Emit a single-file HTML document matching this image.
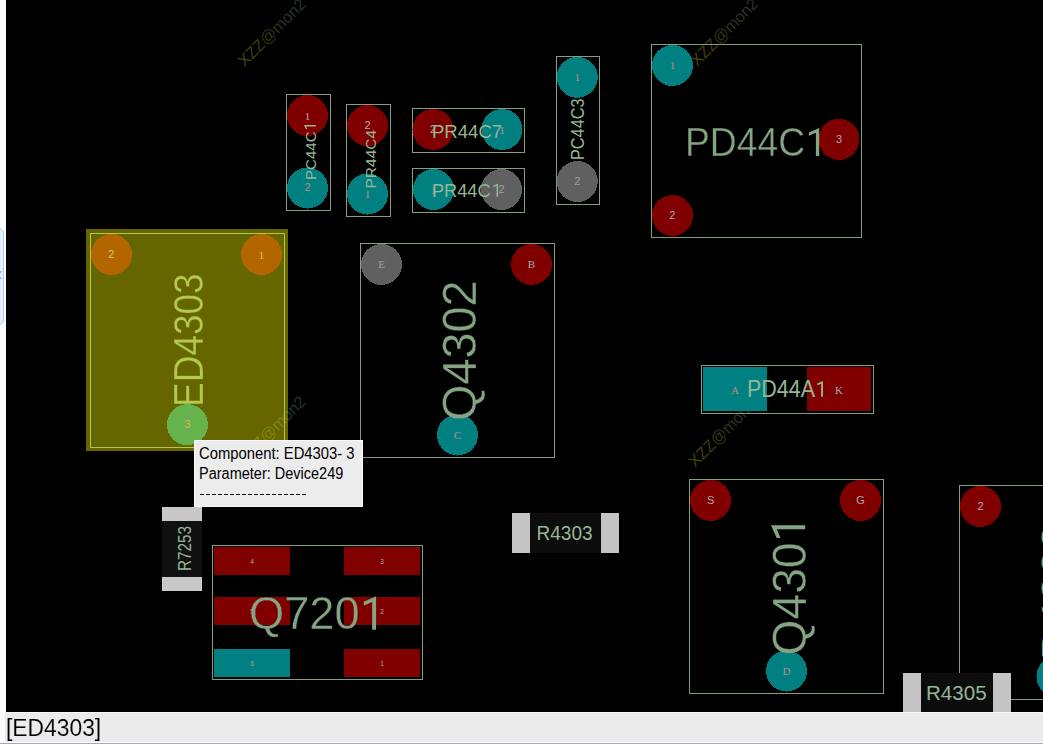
<!DOCTYPE html>
<html><head><meta charset="utf-8"><style>
html,body{margin:0;padding:0;}
body{width:1043px;height:744px;overflow:hidden;position:relative;background:#fcfefc;}
#tab{position:absolute;left:-6px;top:228px;width:10px;height:97px;background:#e4eefc;border:1px solid #a8ccf4;border-radius:6px;box-sizing:border-box;}
svg{position:absolute;left:0;top:0;}
</style></head><body>
<div id="tab"></div><div style="position:absolute;left:-2px;top:272px;width:5px;height:5px;border-left:1.5px solid #6aa0e0;border-bottom:1.5px solid #6aa0e0;transform:rotate(45deg);"></div>
<svg width="1043" height="744" viewBox="0 0 1043 744">
<defs><linearGradient id="wm" x1="0" y1="0" x2="1" y2="0"><stop offset="0" stop-color="#4a4400"/><stop offset="0.5" stop-color="#333318"/><stop offset="1" stop-color="#1c3434"/></linearGradient>
<clipPath id="cvc"><rect x="6" y="0" width="1037" height="712"/></clipPath></defs>
<g clip-path="url(#cvc)">
<rect x="6" y="0" width="1037" height="712" fill="#000"/>
<text transform="translate(244.5,67.5) rotate(-45)" font-family='"Liberation Sans", sans-serif' font-size="16.3" fill="url(#wm)">XZZ@mon2</text>
<text transform="translate(697,67) rotate(-45)" font-family='"Liberation Sans", sans-serif' font-size="16.3" fill="url(#wm)">XZZ@mon2</text>
<text transform="translate(244.5,465) rotate(-45)" font-family='"Liberation Sans", sans-serif' font-size="16.3" fill="url(#wm)">XZZ@mon2</text>
<text transform="translate(695,468) rotate(-45)" font-family='"Liberation Sans", sans-serif' font-size="16.3" fill="url(#wm)">XZZ@mon2</text>
<rect x="286.5" y="94.5" width="44" height="116" fill="none" stroke="#80a080" stroke-width="1"/>
<circle cx="307.5" cy="115.5" r="20.5" fill="#800000" shape-rendering="crispEdges"/>
<text x="307.5" y="119.5" font-family='"Liberation Serif", serif' font-size="11" fill="#a8acb4" text-anchor="middle">1</text>
<circle cx="307.5" cy="188" r="20.5" fill="#008080" shape-rendering="crispEdges"/>
<text x="307.5" y="191.2" font-family='"Liberation Sans", sans-serif' font-size="11" fill="#c08888" text-anchor="middle">2</text>
<text transform="translate(316.30,180.00) rotate(-90)" font-family='"Liberation Sans", sans-serif' font-size="15.41" fill="#96b696" textLength="48.58" lengthAdjust="spacingAndGlyphs">PC44C</text>
<path d="M315.90,125.00 L304.02,125.00 L306.00,129.37 L307.32,129.37 L306.08,126.40 L315.90,126.40 Z" fill="#96b696"/>
<rect x="346.5" y="104.5" width="44" height="112" fill="none" stroke="#80a080" stroke-width="1"/>
<circle cx="367.5" cy="125.5" r="20.5" fill="#800000" shape-rendering="crispEdges"/>
<text x="367.5" y="128.7" font-family='"Liberation Sans", sans-serif' font-size="11" fill="#a8acb4" text-anchor="middle">2</text>
<circle cx="367.5" cy="194" r="20.5" fill="#008080" shape-rendering="crispEdges"/>
<text x="367.5" y="198" font-family='"Liberation Serif", serif' font-size="11" fill="#c08888" text-anchor="middle">1</text>
<text transform="translate(376.30,188.50) rotate(-90)" font-family='"Liberation Sans", sans-serif' font-size="15.41" fill="#96b696" textLength="58.54" lengthAdjust="spacingAndGlyphs">PR44C4</text>
<rect x="412.5" y="108.5" width="112" height="44" fill="none" stroke="#80a080" stroke-width="1"/>
<circle cx="433" cy="129.5" r="20.5" fill="#800000" shape-rendering="crispEdges"/>
<text x="433" y="132.7" font-family='"Liberation Sans", sans-serif' font-size="11" fill="#a8acb4" text-anchor="middle">2</text>
<circle cx="502" cy="129.5" r="20.5" fill="#008080" shape-rendering="crispEdges"/>
<text x="502" y="133.5" font-family='"Liberation Serif", serif' font-size="11" fill="#c08888" text-anchor="middle">1</text>
<text x="432.00" y="137.50" font-family='"Liberation Sans", sans-serif' font-size="18.91" fill="#96b696" textLength="70.10" lengthAdjust="spacingAndGlyphs">PR44C7</text>
<rect x="412.5" y="168.5" width="112" height="44" fill="none" stroke="#80a080" stroke-width="1"/>
<circle cx="433.4" cy="189.5" r="20.5" fill="#008080" shape-rendering="crispEdges"/>
<text x="433.4" y="193.5" font-family='"Liberation Serif", serif' font-size="11" fill="#c08888" text-anchor="middle">1</text>
<circle cx="501.5" cy="189.5" r="20.5" fill="#606060" shape-rendering="crispEdges"/>
<text x="501.5" y="192.7" font-family='"Liberation Sans", sans-serif' font-size="11" fill="#a0a0a0" text-anchor="middle">2</text>
<text x="432.00" y="196.50" font-family='"Liberation Sans", sans-serif' font-size="18.87" fill="#96b696" textLength="58.60" lengthAdjust="spacingAndGlyphs">PR44C</text>
<path d="M498.10,196.70 L498.10,183.52 L493.25,185.72 L493.25,187.18 L496.54,185.81 L496.54,196.70 Z" fill="#96b696"/>
<rect x="556.5" y="56.5" width="43" height="148" fill="none" stroke="#80a080" stroke-width="1"/>
<circle cx="577.3" cy="77.3" r="20.5" fill="#008080" shape-rendering="crispEdges"/>
<text x="577.3" y="81.3" font-family='"Liberation Serif", serif' font-size="11" fill="#c08888" text-anchor="middle">1</text>
<circle cx="577.3" cy="181.5" r="20.5" fill="#606060" shape-rendering="crispEdges"/>
<text x="577.3" y="184.7" font-family='"Liberation Sans", sans-serif' font-size="11" fill="#a0a0a0" text-anchor="middle">2</text>
<text transform="translate(583.60,160.00) rotate(-90)" font-family='"Liberation Sans", sans-serif' font-size="18.87" fill="#96b696" textLength="61.55" lengthAdjust="spacingAndGlyphs">PC44C3</text>
<rect x="651.5" y="44.5" width="210" height="193" fill="none" stroke="#80a080" stroke-width="1"/>
<circle cx="672.5" cy="65.4" r="20.5" fill="#008080" shape-rendering="crispEdges"/>
<text x="672.5" y="69.4" font-family='"Liberation Serif", serif' font-size="11" fill="#c08888" text-anchor="middle">1</text>
<circle cx="839" cy="139.4" r="20.5" fill="#800000" shape-rendering="crispEdges"/>
<text x="839" y="142.6" font-family='"Liberation Sans", sans-serif' font-size="11" fill="#a8acb4" text-anchor="middle">3</text>
<circle cx="672.4" cy="215.5" r="20.5" fill="#800000" shape-rendering="crispEdges"/>
<text x="672.4" y="218.7" font-family='"Liberation Sans", sans-serif' font-size="11" fill="#a8acb4" text-anchor="middle">2</text>
<mask id="tm1" maskUnits="userSpaceOnUse" x="0" y="0" width="1043" height="744"><rect x="0" y="0" width="1043" height="744" fill="#000"/><text x="685.00" y="156.00" font-family='"Liberation Sans", sans-serif' font-size="39.84" fill="#fff" stroke="#000" stroke-width="0.4" textLength="120.19" lengthAdjust="spacingAndGlyphs">PD44C</text></mask>
<rect x="6" y="0" width="1037" height="712" fill="#84a484" mask="url(#tm1)"/>
<path d="M819.20,156.00 L819.20,127.92 L808.87,132.60 L808.87,135.72 L815.88,132.80 L815.88,156.00 Z" fill="#84a484"/>
<rect x="360.5" y="243.5" width="194" height="214" fill="none" stroke="#80a080" stroke-width="1"/>
<circle cx="381.5" cy="264.4" r="20.5" fill="#606060" shape-rendering="crispEdges"/>
<text x="381.5" y="268.4" font-family='"Liberation Serif", serif' font-size="11" fill="#a0a0a0" text-anchor="middle">E</text>
<circle cx="531.5" cy="264.4" r="20.5" fill="#800000" shape-rendering="crispEdges"/>
<text x="531.5" y="268.4" font-family='"Liberation Serif", serif' font-size="11" fill="#a8acb4" text-anchor="middle">B</text>
<circle cx="457.5" cy="435" r="20.5" fill="#008080" shape-rendering="crispEdges"/>
<text x="457.5" y="439" font-family='"Liberation Serif", serif' font-size="11" fill="#c08888" text-anchor="middle">C</text>
<mask id="tm2" maskUnits="userSpaceOnUse" x="0" y="0" width="1043" height="744"><rect x="0" y="0" width="1043" height="744" fill="#000"/><text transform="translate(476.40,421.00) rotate(-90)" font-family='"Liberation Sans", sans-serif' font-size="48.04" fill="#fff" stroke="#000" stroke-width="0.4" textLength="140.68" lengthAdjust="spacingAndGlyphs">Q4302</text></mask>
<rect x="6" y="0" width="1037" height="712" fill="#84a484" mask="url(#tm2)"/>
<rect x="701.5" y="365.5" width="172" height="48" fill="none" stroke="#80a080" stroke-width="1"/>
<rect x="703" y="367" width="64" height="44" fill="#008080"/>
<text x="735.0" y="394.0" font-family='"Liberation Serif", serif' font-size="11" fill="#c08888" text-anchor="middle">A</text>
<rect x="807" y="367" width="64" height="44" fill="#800000"/>
<text x="839.0" y="394.0" font-family='"Liberation Serif", serif' font-size="11" fill="#a8acb4" text-anchor="middle">K</text>
<text x="747.00" y="397.00" font-family='"Liberation Sans", sans-serif' font-size="23.22" fill="#96b696" textLength="68.07" lengthAdjust="spacingAndGlyphs">PD44A</text>
<path d="M823.00,396.80 L823.00,380.96 L817.17,383.60 L817.17,385.36 L821.13,383.71 L821.13,396.80 Z" fill="#96b696"/>
<rect x="689.5" y="479.5" width="194" height="214" fill="none" stroke="#80a080" stroke-width="1"/>
<circle cx="710.6" cy="500.4" r="20.5" fill="#800000" shape-rendering="crispEdges"/>
<text x="710.6" y="503.59999999999997" font-family='"Liberation Sans", sans-serif' font-size="11" fill="#a8acb4" text-anchor="middle">S</text>
<circle cx="860.5" cy="500.4" r="20.5" fill="#800000" shape-rendering="crispEdges"/>
<text x="860.5" y="503.59999999999997" font-family='"Liberation Sans", sans-serif' font-size="11" fill="#a8acb4" text-anchor="middle">G</text>
<circle cx="786.5" cy="671" r="20.5" fill="#008080" shape-rendering="crispEdges"/>
<text x="786.5" y="675" font-family='"Liberation Serif", serif' font-size="11" fill="#c08888" text-anchor="middle">D</text>
<mask id="tm3" maskUnits="userSpaceOnUse" x="0" y="0" width="1043" height="744"><rect x="0" y="0" width="1043" height="744" fill="#000"/><text transform="translate(805.80,655.50) rotate(-90)" font-family='"Liberation Sans", sans-serif' font-size="47.21" fill="#fff" stroke="#000" stroke-width="0.4" textLength="113.09" lengthAdjust="spacingAndGlyphs">Q430</text></mask>
<rect x="6" y="0" width="1037" height="712" fill="#84a484" mask="url(#tm3)"/>
<path d="M805.20,525.30 L771.00,525.30 L776.70,537.89 L780.50,537.89 L776.94,529.34 L805.20,529.34 Z" fill="#84a484"/>
<rect x="959.5" y="485.5" width="241" height="214" fill="none" stroke="#80a080" stroke-width="1"/>
<circle cx="980.5" cy="506.4" r="20.5" fill="#800000" shape-rendering="crispEdges"/>
<text x="980.5" y="509.59999999999997" font-family='"Liberation Sans", sans-serif' font-size="11" fill="#a8acb4" text-anchor="middle">2</text>
<circle cx="1057" cy="676.5" r="20.5" fill="#008080" shape-rendering="crispEdges"/>
<text transform="translate(1075.00,660.00) rotate(-90)" x="0" y="0" font-family='"Liberation Sans", sans-serif' font-size="47.49" fill="#84a484" textLength="136.0" lengthAdjust="spacingAndGlyphs">D4303</text>
<rect x="212.5" y="545.5" width="210" height="134" fill="none" stroke="#80a080" stroke-width="1"/>
<rect x="214" y="547" width="76" height="28" fill="#800000"/>
<text x="252.0" y="563.5" font-family='"Liberation Sans", sans-serif' font-size="6.5" fill="#a8acb4" text-anchor="middle">4</text>
<rect x="344" y="547" width="76" height="28" fill="#800000"/>
<text x="382.0" y="563.5" font-family='"Liberation Sans", sans-serif' font-size="6.5" fill="#a8acb4" text-anchor="middle">3</text>
<rect x="214" y="597" width="76" height="28" fill="#800000"/>
<text x="252.0" y="613.5" font-family='"Liberation Sans", sans-serif' font-size="6.5" fill="#a8acb4" text-anchor="middle">5</text>
<rect x="344" y="597" width="76" height="28" fill="#800000"/>
<text x="382.0" y="613.5" font-family='"Liberation Sans", sans-serif' font-size="6.5" fill="#a8acb4" text-anchor="middle">2</text>
<rect x="214" y="649" width="76" height="28" fill="#008080"/>
<text x="252.0" y="665.5" font-family='"Liberation Sans", sans-serif' font-size="6.5" fill="#c08888" text-anchor="middle">6</text>
<rect x="344" y="649" width="76" height="28" fill="#800000"/>
<text x="382.0" y="665.5" font-family='"Liberation Sans", sans-serif' font-size="6.5" fill="#a8acb4" text-anchor="middle">1</text>
<mask id="tm4" maskUnits="userSpaceOnUse" x="0" y="0" width="1043" height="744"><rect x="0" y="0" width="1043" height="744" fill="#000"/><text x="249.00" y="628.80" font-family='"Liberation Sans", sans-serif' font-size="46.51" fill="#fff" stroke="#000" stroke-width="0.4" textLength="110.60" lengthAdjust="spacingAndGlyphs">Q720</text></mask>
<rect x="6" y="0" width="1037" height="712" fill="#84a484" mask="url(#tm4)"/>
<path d="M376.10,629.70 L376.10,596.22 L363.78,601.80 L363.78,605.52 L372.15,602.03 L372.15,629.70 Z" fill="#84a484"/>
<rect x="90.5" y="233.5" width="194" height="214" fill="none" stroke="#80a080" stroke-width="1"/>
<circle cx="111.4" cy="254.5" r="20.5" fill="#800000" shape-rendering="crispEdges"/>
<text x="111.4" y="257.7" font-family='"Liberation Sans", sans-serif' font-size="11" fill="#a8acb4" text-anchor="middle">2</text>
<circle cx="261.6" cy="254.5" r="20.5" fill="#800000" shape-rendering="crispEdges"/>
<text x="261.6" y="258.5" font-family='"Liberation Serif", serif' font-size="11" fill="#a8acb4" text-anchor="middle">1</text>
<circle cx="187.4" cy="424.7" r="20.5" fill="#008080" shape-rendering="crispEdges"/>
<text x="187.4" y="427.9" font-family='"Liberation Sans", sans-serif' font-size="11" fill="#c08888" text-anchor="middle">3</text>
<mask id="tm5" maskUnits="userSpaceOnUse" x="0" y="0" width="1043" height="744"><rect x="0" y="0" width="1043" height="744" fill="#000"/><text transform="translate(202.70,407.00) rotate(-90)" font-family='"Liberation Sans", sans-serif' font-size="43.42" fill="#fff" stroke="#000" stroke-width="0.4" textLength="133.66" lengthAdjust="spacingAndGlyphs">ED4303</text></mask>
<rect x="6" y="0" width="1037" height="712" fill="#84a484" mask="url(#tm5)"/>
<rect x="86" y="229" width="202" height="222" fill="#ffff00" fill-opacity="0.4"/>
<rect x="162" y="507" width="40" height="84" fill="#101010"/>
<rect x="162" y="507" width="40" height="14" fill="#c8c8c8"/>
<rect x="162" y="577" width="40" height="14" fill="#c8c8c8"/>
<text transform="translate(190.70,571.00) rotate(-90)" font-family='"Liberation Sans", sans-serif' font-size="17.50" fill="#96b696" textLength="45.07" lengthAdjust="spacingAndGlyphs">R7253</text>
<rect x="512" y="513" width="107" height="40" fill="#0c0c0c"/>
<rect x="512" y="513" width="18" height="40" fill="#c4c4c4"/>
<rect x="601" y="513" width="18" height="40" fill="#c4c4c4"/>
<text x="536.50" y="539.50" font-family='"Liberation Sans", sans-serif' font-size="19.62" fill="#96b696" textLength="56.08" lengthAdjust="spacingAndGlyphs">R4303</text>
<rect x="903" y="673" width="108" height="39" fill="#0c0c0c"/>
<rect x="903" y="673" width="18" height="39" fill="#c4c4c4"/>
<rect x="993" y="673" width="18" height="39" fill="#c4c4c4"/>
<text x="926.00" y="699.50" font-family='"Liberation Sans", sans-serif' font-size="20.99" fill="#96b696" textLength="60.60" lengthAdjust="spacingAndGlyphs">R4305</text>
</g>
<rect x="194" y="440" width="169" height="67" fill="#f9f9f9"/>
<rect x="195" y="441" width="167" height="65" fill="#ececec"/>
<text x="199" y="459" font-family='"Liberation Sans", sans-serif' font-size="16" fill="#000" textLength="155.6" lengthAdjust="spacingAndGlyphs">Component: ED4303- 3</text>
<text x="199" y="479" font-family='"Liberation Sans", sans-serif' font-size="16" fill="#000" textLength="144.3" lengthAdjust="spacingAndGlyphs">Parameter: Device249</text>
<rect x="200" y="494" width="4" height="1" fill="#000"/>
<rect x="206" y="494" width="4" height="1" fill="#000"/>
<rect x="212" y="494" width="4" height="1" fill="#000"/>
<rect x="218" y="494" width="4" height="1" fill="#000"/>
<rect x="224" y="494" width="4" height="1" fill="#000"/>
<rect x="230" y="494" width="4" height="1" fill="#000"/>
<rect x="236" y="494" width="4" height="1" fill="#000"/>
<rect x="242" y="494" width="4" height="1" fill="#000"/>
<rect x="248" y="494" width="4" height="1" fill="#000"/>
<rect x="254" y="494" width="4" height="1" fill="#000"/>
<rect x="260" y="494" width="4" height="1" fill="#000"/>
<rect x="266" y="494" width="4" height="1" fill="#000"/>
<rect x="272" y="494" width="4" height="1" fill="#000"/>
<rect x="278" y="494" width="4" height="1" fill="#000"/>
<rect x="284" y="494" width="4" height="1" fill="#000"/>
<rect x="290" y="494" width="4" height="1" fill="#000"/>
<rect x="296" y="494" width="4" height="1" fill="#000"/>
<rect x="302" y="494" width="4" height="1" fill="#000"/>
<rect x="5" y="712" width="1038" height="1" fill="#f8f8f8"/>
<rect x="5" y="713" width="1038" height="29" fill="#ebebeb"/>
<rect x="0" y="742" width="1043" height="1" fill="#fafafa"/>
<rect x="0" y="743" width="1043" height="1" fill="#a8a8b8"/>
<mask id="stm" maskUnits="userSpaceOnUse" x="0" y="0" width="1043" height="744"><rect x="0" y="0" width="1043" height="744" fill="#000"/><text x="6" y="736" font-family='"Liberation Sans", sans-serif' font-size="23.3" fill="#fff" stroke="#000" stroke-width="0.2" textLength="95.2" lengthAdjust="spacingAndGlyphs">[ED4303]</text></mask>
<rect x="0" y="712" width="1043" height="32" fill="#000" mask="url(#stm)"/>
</svg>
</body></html>
